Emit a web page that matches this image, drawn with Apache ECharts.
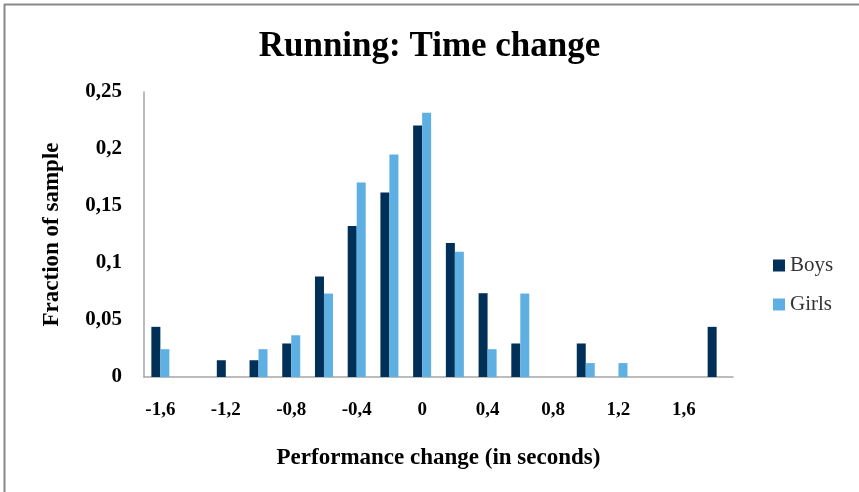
<!DOCTYPE html>
<html>
<head>
<meta charset="utf-8">
<script src="https://cdn.jsdelivr.net/npm/echarts@6/dist/echarts.min.js"></script>
<style>html,body{margin:0;padding:0;background:#fff;}#c{width:859px;height:492px;}</style>
</head>
<body>
<div id="c"></div>
<script>
var categories = ['-1,6','-1,4','-1,2','-1','-0,8','-0,6','-0,4','-0,2','0','0,2','0,4','0,6','0,8','1','1,2','1,4','1,6','1,8'];
var boys  = [0.044, 0, 0.0147, 0.0147, 0.0294, 0.0882, 0.1324, 0.1618, 0.2206, 0.1176, 0.0735, 0.0294, 0, 0.0294, 0, 0, 0, 0.044];
var girls = [0.0244, 0, 0, 0.0244, 0.0366, 0.0732, 0.1707, 0.1951, 0.2317, 0.1098, 0.0244, 0.0732, 0, 0.0122, 0.0122, 0, 0, 0];
var yTicks = [0, 0.05, 0.1, 0.15, 0.2, 0.25];

var serif = '"Liberation Serif", "DejaVu Serif", serif';
var chart = echarts.init(document.getElementById('c'), null, {renderer: 'canvas'});
chart.setOption({
  backgroundColor: '#fff',
  animation: false,
  title: {
    text: 'Running: Time change',
    left: 'center', top: 24,
    textStyle: {fontFamily: serif, fontSize: 35, fontWeight: 'bold', color: '#000'}
  },
  legend: {
    orient: 'vertical', left: 768, top: 250, itemGap: 18,
    itemWidth: 12, itemHeight: 12, icon: 'rect',
    data: ['Boys', 'Girls'],
    textStyle: {fontFamily: serif, fontSize: 21, color: '#333'}
  },
  grid: {left: 144, right: 126, top: 92, bottom: 115, containLabel: false},
  xAxis: {
    type: 'category', data: categories,
    name: 'Performance change (in seconds)', nameLocation: 'middle', nameGap: 70,
    nameTextStyle: {fontFamily: serif, fontSize: 23, fontWeight: 'bold', color: '#000'},
    axisLine: {lineStyle: {color: '#a6a6a6', width: 1.5}},
    axisTick: {show: false},
    axisLabel: {interval: 1, margin: 24, fontFamily: serif, fontSize: 19, fontWeight: 'bold', color: '#000'}
  },
  yAxis: {
    type: 'value', min: 0, max: 0.25, interval: 0.05,
    name: 'Fraction of sample', nameLocation: 'middle', nameGap: 80, nameRotate: 90,
    nameTextStyle: {fontFamily: serif, fontSize: 23, fontWeight: 'bold', color: '#000'},
    axisLine: {show: true, lineStyle: {color: '#a6a6a6', width: 1.5}},
    axisTick: {show: false},
    splitLine: {show: false},
    axisLabel: {margin: 22, fontFamily: serif, fontSize: 21, fontWeight: 'bold', color: '#000',
      formatter: function (v) { return yTicks.indexOf(+v.toFixed(2)) >= 0 ? String(+v.toFixed(2)).replace('.', ',') : ''; }}
  },
  series: [
    {name: 'Boys', type: 'bar', data: boys, barGap: '0%', barCategoryGap: '45%', itemStyle: {color: '#003058'}},
    {name: 'Girls', type: 'bar', data: girls, barGap: '0%', barCategoryGap: '45%', itemStyle: {color: '#5eb0e2'}}
  ],
  graphic: [
    {type: 'line', shape: {x1: 4, y1: 4.5, x2: 859, y2: 4.5}, style: {stroke: '#888', lineWidth: 2}},
    {type: 'line', shape: {x1: 4.5, y1: 4, x2: 4.5, y2: 492}, style: {stroke: '#888', lineWidth: 2}}
  ]
});
</script>
</body>
</html>
